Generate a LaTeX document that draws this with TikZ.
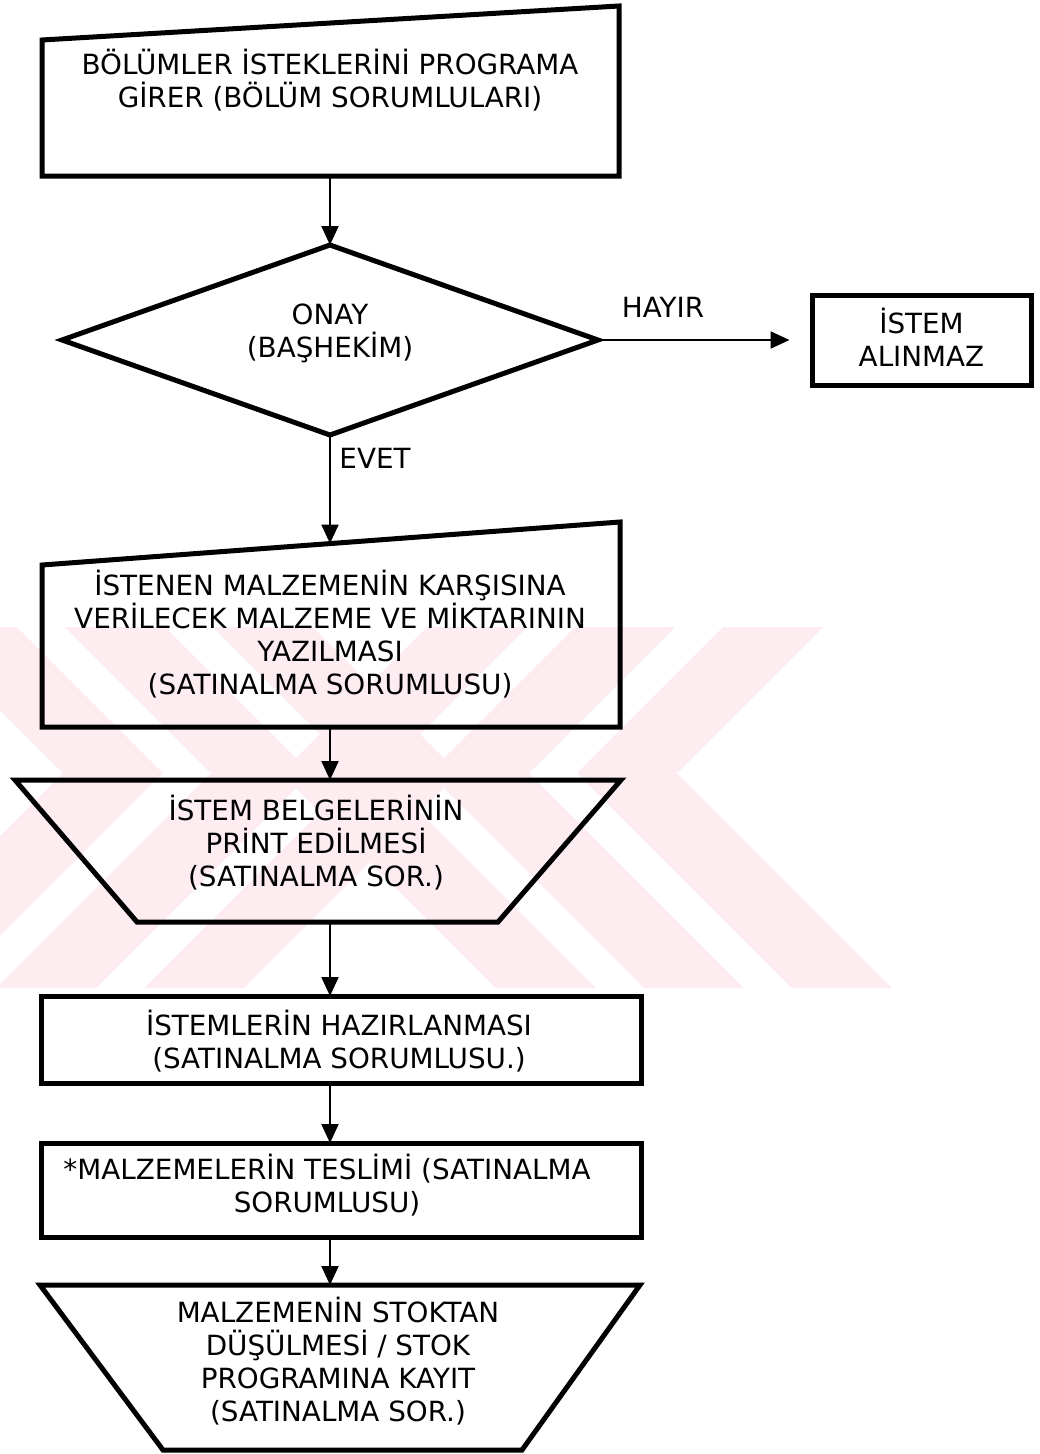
\documentclass[tikz,border=0pt]{standalone}
\usepackage{fontspec}
\setmainfont{DejaVu Sans}
\usetikzlibrary{arrows.meta}
\definecolor{wmark}{RGB}{253,237,241}
\begin{document}
\begin{tikzpicture}[x=1pt,y=-1pt,
  outline/.style={line width=5pt, line join=miter},
  conn/.style={line width=2.2pt, -{Triangle[width=17pt,length=19pt]}},
  lbl/.style={font=\fontsize{27.8}{33}\selectfont, align=center, inner sep=0pt},
  endbox/.style={draw, line width=5pt, minimum width=219pt, minimum height=90pt, inner sep=0pt}]
\useasboundingbox (0,0) rectangle (1039,1454);
\fill[white] (0,0) rectangle (1039,1454);

% background mark: nested chevrons
\begin{scope}
  \clip (0,627) rectangle (1039,988);
  \foreach \v in {677,529,381} {
    \fill[wmark] (\v+146,627) -- (\v,773) -- (\v+215,988) -- (\v+115,988)
      -- (\v-100,773) -- (\v+46,627) -- cycle;
  }
  \foreach \v in {63,211,359} {
    \fill[wmark] (\v-146,627) -- (\v,773) -- (\v-215,988) -- (\v-115,988)
      -- (\v+100,773) -- (\v-46,627) -- cycle;
  }
\end{scope}

% 1: manual input
\draw[outline] (42,40) -- (619,6) -- (619,176) -- (42,176) -- cycle;
\coordinate (s1b) at (330,176);
\node[lbl] (t1) at (330,80) {BÖLÜMLER İSTEKLERİNİ PROGRAMA\\GİRER (BÖLÜM SORUMLULARI)};

% 2: decision
\coordinate (dt) at (330,245);
\coordinate (dr) at (598,340);
\coordinate (db) at (330,435);
\coordinate (dl) at (62,340);
\draw[outline] (dt) -- (dr) -- (db) -- (dl) -- cycle;
\node[lbl] (t2) at (330,333) {ONAY\\(BAŞHEKİM)};

\node[endbox] (r) at (921.5,340) {};
\node[lbl] (tr) at (921.5,337) {İSTEM\\ALINMAZ};

% 3: manual input
\draw[outline] (42,565) -- (620,522) -- (620,727) -- (42,727) -- cycle;
\coordinate (s3t) at (330,543.5);
\coordinate (s3b) at (330,727);
\node[lbl] (t3) at (330,634) {İSTENEN MALZEMENİN KARŞISINA\\VERİLECEK MALZEME VE MİKTARININ\\YAZILMASI\\(SATINALMA SORUMLUSU)};

% 4: manual operation
\draw[outline] (15,780) -- (621,780) -- (498,922) -- (137,922) -- cycle;
\coordinate (s4t) at (330,780);
\coordinate (s4b) at (330,922);
\node[lbl] (t4) at (316,843) {İSTEM BELGELERİNİN\\PRİNT EDİLMESİ\\(SATINALMA SOR.)};

% 5: process
\draw[outline] (41,996) rectangle (641,1083);
\coordinate (s5t) at (330,996);
\coordinate (s5b) at (330,1083);
\node[lbl] (t5) at (339,1041) {İSTEMLERİN HAZIRLANMASI\\(SATINALMA SORUMLUSU.)};

% 6: process
\draw[outline] (41,1143) rectangle (641,1237);
\coordinate (s6t) at (330,1143);
\coordinate (s6b) at (330,1237);
\node[lbl] (t6) at (327,1185) {*MALZEMELERİN TESLİMİ (SATINALMA\\SORUMLUSU)};

% 7: manual operation
\draw[outline] (40,1285) -- (640,1285) -- (522,1450) -- (163,1450) -- cycle;
\coordinate (s7t) at (330,1285);
\node[lbl] (t7) at (338,1361) {MALZEMENİN STOKTAN\\DÜŞÜLMESİ / STOK\\PROGRAMINA KAYIT\\(SATINALMA SOR.)};

% connectors
\draw[conn] (s1b) -- (dt);
\draw[conn, shorten >=20pt] (dr) -- (r.west);
\node[lbl] (no) at (663,307) {HAYIR};
\draw[conn] (db) -- (s3t);
\node[lbl] (yes) at (375,458) {EVET};
\draw[conn] (s3b) -- (s4t);
\draw[conn] (s4b) -- (s5t);
\draw[conn] (s5b) -- (s6t);
\draw[conn] (s6b) -- (s7t);
\end{tikzpicture}
\end{document}
